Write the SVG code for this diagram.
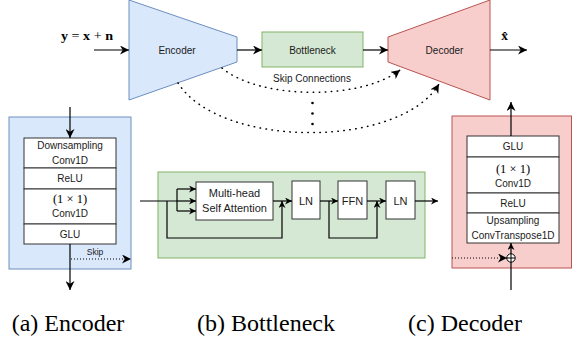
<svg xmlns="http://www.w3.org/2000/svg" width="572" height="341" viewBox="0 0 572 341">
<style>
.lbl{font-family:"Liberation Sans",Arial,sans-serif;fill:#1a1a1a;text-anchor:middle}
.f10{font-size:10px}
.f11{font-size:11px}
.math{font-family:"Liberation Serif","Times New Roman",serif;fill:#000}
.cap{font-family:"Liberation Serif","Times New Roman",serif;font-size:24px;fill:#000;text-anchor:middle}
.ln{fill:none;stroke:#000;stroke-width:1.2}
.dot{fill:none;stroke:#000;stroke-width:1.5;stroke-dasharray:0.5 5.5;stroke-linecap:round}
.sdot{fill:none;stroke:#000;stroke-width:1;stroke-dasharray:1 2}
.box{fill:#fff;stroke:#333;stroke-width:1}
.blue{fill:#dae8fc;stroke:#6c8ebf;stroke-width:1}
.green{fill:#d5e8d4;stroke:#82b366;stroke-width:1}
.red{fill:#f8cecc;stroke:#b85450;stroke-width:1}
</style>
<defs>
<marker id="ah" viewBox="0 0 10 10" refX="10" refY="5" markerWidth="9" markerHeight="9" markerUnits="userSpaceOnUse" orient="auto">
<path d="M0,0 L10,5 L0,10 L3,5 z" fill="#000"/>
</marker>
<marker id="as" viewBox="0 0 10 10" refX="10" refY="5" markerWidth="7" markerHeight="7" markerUnits="userSpaceOnUse" orient="auto">
<path d="M0,0 L10,5 L0,10 L3,5 z" fill="#000"/>
</marker>
</defs>

<!-- top overview -->
<g id="encoder">
<path class="blue" d="M129,0 L237,37 L237,62 L129,100 Z"/>
<text class="lbl f10" x="177" y="54">Encoder</text>
</g>
<g id="bottleneck">
<rect class="green" x="262" y="32" width="101" height="35"/>
<text class="lbl f10" x="312.5" y="54">Bottleneck</text>
</g>
<g id="decoder">
<path class="red" d="M388,37 L490,0 L490,100 L388,62 Z"/>
<text class="lbl f10" x="444.5" y="54">Decoder</text>
</g>
<g id="input-label">
<text class="math" x="61" y="40" font-size="13.5" textLength="52" lengthAdjust="spacingAndGlyphs"><tspan font-weight="bold">y</tspan> = <tspan font-weight="bold">x</tspan> + <tspan font-weight="bold">n</tspan></text>
</g>
<g id="output-label">
<text class="math" x="504.5" y="40" font-size="13.5" font-weight="bold" text-anchor="middle">x̂</text>
</g>
<g id="skip-label">
<text class="lbl f10" x="312" y="82">Skip Connections</text>
<circle cx="312.5" cy="103" r="1.3" fill="#000"/>
<circle cx="312.5" cy="113.5" r="1.3" fill="#000"/>
<circle cx="312.5" cy="124" r="1.3" fill="#000"/>
</g>

<!-- (a) encoder block -->
<g id="enc-panel">
<rect class="blue" x="9" y="117" width="122" height="152"/>
</g>
<g id="enc-stack">
<rect class="box" x="24" y="138" width="92" height="30"/>
<rect class="box" x="24" y="168" width="92" height="21"/>
<rect class="box" x="24" y="189" width="92" height="35"/>
<rect class="box" x="24" y="224" width="92" height="20"/>
<text class="lbl f10" x="70" y="149">Downsampling</text>
<text class="lbl f10" x="70" y="164">Conv1D</text>
<text class="lbl f10" x="70" y="182">ReLU</text>
<text class="math" x="70" y="203" font-size="12.5" font-weight="normal" text-anchor="middle">(1 × 1)</text>
<text class="lbl f10" x="70" y="217">Conv1D</text>
<text class="lbl f10" x="70" y="238">GLU</text>
<text class="lbl" x="95" y="255" font-size="8.5">Skip</text>
</g>

<!-- (b) bottleneck block -->
<g id="bn-panel">
<rect class="green" x="158" y="172" width="267" height="86"/>
</g>
<g id="mhsa">
<rect class="box" x="196" y="182" width="77" height="38"/>
<text class="lbl f11" x="234.5" y="197">Multi-head</text>
<text class="lbl f11" x="234.5" y="212">Self Attention</text>
</g>
<g id="ln1">
<rect class="box" x="292" y="181" width="28" height="38"/>
<text class="lbl f11" x="306" y="205">LN</text>
</g>
<g id="ffn">
<rect class="box" x="338" y="181" width="29" height="38"/>
<text class="lbl f11" x="352.5" y="205">FFN</text>
</g>
<g id="ln2">
<rect class="box" x="386" y="181" width="29" height="38"/>
<text class="lbl f11" x="400.5" y="205">LN</text>
</g>

<!-- (c) decoder block -->
<g id="dec-panel">
<rect class="red" x="452" y="116" width="119.5" height="152"/>
</g>
<g id="dec-stack">
<rect class="box" x="467" y="136" width="92" height="21"/>
<rect class="box" x="467" y="157" width="92" height="36"/>
<rect class="box" x="467" y="193" width="92" height="20"/>
<rect class="box" x="467" y="213" width="92" height="30"/>
<text class="lbl f10" x="513" y="150">GLU</text>
<text class="math" x="513" y="173" font-size="12.5" font-weight="normal" text-anchor="middle">(1 × 1)</text>
<text class="lbl f10" x="513" y="187">Conv1D</text>
<text class="lbl f10" x="513" y="206.5">ReLU</text>
<text class="lbl f10" x="513" y="224">Upsampling</text>
<text class="lbl f10" x="513" y="239">ConvTranspose1D</text>
</g>
<g id="plus">
<circle cx="511" cy="258" r="4.2" fill="#fff" stroke="#000" stroke-width="1"/>
<path d="M507,258 H515 M511,254 V262" stroke="#000" stroke-width="1"/>
</g>

<!-- connectors -->
<g id="connectors">
<path class="ln" d="M94,50 H129" marker-end="url(#ah)"/>
<path class="ln" d="M237,50 H262" marker-end="url(#ah)"/>
<path class="ln" d="M363,50 H388" marker-end="url(#ah)"/>
<path class="ln" d="M490,50 H527" marker-end="url(#ah)"/>
<path class="dot" d="M222,68 C260,100 362,100 400,70" marker-end="url(#ah)"/>
<path class="dot" d="M178,83 C220,149 400,149 439,84" marker-end="url(#ah)"/>

<path class="ln" d="M70,107 V138" marker-end="url(#ah)"/>
<path class="ln" d="M70,244 V290" marker-end="url(#ah)"/>
<path class="sdot" d="M71,259 H131" marker-end="url(#ah)"/>

<path class="ln" d="M140,201 H177"/>
<path class="ln" d="M177,189 V211"/>
<path class="ln" d="M177,189 H196" marker-end="url(#as)"/>
<path class="ln" d="M177,201 H196" marker-end="url(#as)"/>
<path class="ln" d="M177,211 H196" marker-end="url(#as)"/>
<path class="ln" d="M167,201 V238 H282 V201" marker-end="url(#as)"/>
<path class="ln" d="M273,201 H292" marker-end="url(#as)"/>
<path class="ln" d="M320,201 H338" marker-end="url(#as)"/>
<path class="ln" d="M329,201 V238 H377 V201" marker-end="url(#as)"/>
<path class="ln" d="M367,201 H386" marker-end="url(#as)"/>
<path class="ln" d="M415,201 H438" marker-end="url(#as)"/>

<path class="ln" d="M511,136 V102" marker-end="url(#ah)"/>
<path class="ln" d="M511,254 V243" marker-end="url(#as)"/>
<path class="ln" d="M511,290 V262"/>
<path class="sdot" d="M452,258 H507" marker-end="url(#ah)"/>
</g>

<!-- captions -->
<text class="cap" x="68" y="331">(a) Encoder</text>
<text class="cap" x="266" y="331">(b) Bottleneck</text>
<text class="cap" x="465" y="331">(c) Decoder</text>
</svg>
